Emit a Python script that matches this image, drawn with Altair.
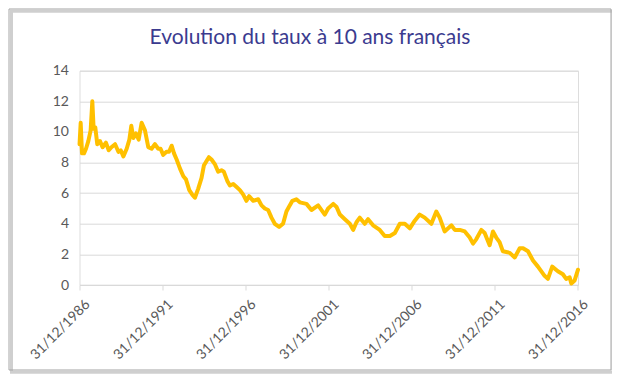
import altair as alt
import pandas as pd

# Decimal-year positions and 10-year French yield values (%)
years = [
    1987.00, 1987.07, 1987.15, 1987.27, 1987.39, 1987.53, 1987.67, 1987.77, 1987.85, 1987.95,
    1988.07, 1988.23, 1988.39, 1988.59, 1988.76, 1988.92, 1989.14, 1989.34, 1989.48, 1989.64,
    1989.84, 1990.00, 1990.12, 1990.24, 1990.40, 1990.56, 1990.74, 1990.94, 1991.14, 1991.34,
    1991.54, 1991.74, 1991.88, 1992.04, 1992.24, 1992.39, 1992.55, 1992.69, 1992.85, 1993.05,
    1993.25, 1993.41, 1993.61, 1993.79, 1993.95, 1994.15, 1994.35, 1994.49, 1994.65, 1994.79,
    1994.95, 1995.15, 1995.35, 1995.55, 1995.69, 1995.90, 1996.06, 1996.26, 1996.46, 1996.66,
    1996.86, 1997.05, 1997.21, 1997.46, 1997.76, 1997.96, 1998.16, 1998.36, 1998.56, 1998.76,
    1999.02, 1999.26, 1999.46, 1999.66, 1999.82, 2000.06,
    2000.27, 2000.67, 2000.97, 2001.37, 2001.77, 2001.97, 2002.28, 2002.48, 2002.68, 2002.98,
    2003.28, 2003.48, 2003.68, 2003.88, 2004.18, 2004.38, 2004.68, 2005.08, 2005.38, 2005.69,
    2005.99, 2006.29, 2006.59, 2006.89, 2007.19, 2007.49, 2007.79, 2008.19, 2008.49, 2008.69,
    2008.99, 2009.40, 2009.60, 2009.90, 2010.20, 2010.50, 2010.70, 2010.90, 2011.20, 2011.40,
    2011.70, 2011.90, 2012.10, 2012.30, 2012.50, 2012.91, 2013.21, 2013.51, 2013.71, 2014.01,
    2014.31, 2014.61, 2015.01, 2015.21, 2015.47, 2015.81, 2016.11, 2016.31, 2016.52, 2016.62,
    2016.82, 2017.02,
]
rates = [
    9.2, 10.6, 8.6, 8.6, 8.9, 9.4, 10.1, 12.0, 10.2, 10.3,
    9.2, 9.4, 9.0, 9.3, 8.8, 9.0, 9.2, 8.7, 8.8, 8.4,
    8.9, 9.5, 10.4, 9.6, 9.9, 9.5, 10.6, 10.1, 9.0, 8.9,
    9.2, 8.9, 8.9, 8.5, 8.7, 8.7, 9.1, 8.6, 8.2, 7.6,
    7.1, 6.9, 6.2, 5.9, 5.7, 6.3, 7.0, 7.8, 8.1, 8.35,
    8.2, 7.9, 7.4, 7.5, 7.4, 6.8, 6.5, 6.6, 6.4, 6.2,
    5.9, 5.5, 5.8, 5.5, 5.6, 5.2, 5.0, 4.9, 4.4, 4.0,
    3.8, 4.0, 4.8, 5.2, 5.5, 5.6,
    5.4, 5.3, 4.9, 5.2, 4.6, 5.0, 5.3, 5.1, 4.6, 4.3,
    4.0, 3.6, 4.1, 4.4, 4.0, 4.3, 3.9, 3.6, 3.2, 3.2,
    3.4, 4.0, 4.0, 3.7, 4.2, 4.6, 4.4, 4.0, 4.8, 4.4,
    3.5, 3.9, 3.6, 3.6, 3.5, 3.1, 2.7, 3.0, 3.6, 3.4,
    2.6, 3.5, 3.1, 2.8, 2.2, 2.1, 1.8, 2.4, 2.4, 2.2,
    1.6, 1.2, 0.6, 0.4, 1.2, 0.9, 0.7, 0.4, 0.5, 0.1,
    0.3, 1.0,
]
y_ticks = [0, 2, 4, 6, 8, 10, 12, 14]
x_tick_years = [1986, 1991, 1996, 2001, 2006, 2011, 2016]
title_text = "Evolution du taux à 10 ans français"


def to_date(y):
    base = pd.Timestamp(year=int(y), month=1, day=1)
    return (base + pd.Timedelta(days=(y - int(y)) * 365.25)).strftime("%Y-%m-%d")


df = pd.DataFrame({"date": [to_date(y) for y in years], "taux": rates})

W, H = 498.5, 214.3
FONT = "Lato"

x_values = [alt.DateTime(year=y, month=12, date=31, utc=True) for y in x_tick_years]

line = alt.Chart(df).mark_line(
    color="#FFC000", strokeWidth=4, strokeJoin="round", strokeCap="round"
).encode(
    x=alt.X(
        "date:T",
        title=None,
        scale=alt.Scale(
            type="utc",
            domain=[
                alt.DateTime(year=1986, month=12, date=31, utc=True),
                alt.DateTime(year=2017, month=1, date=8, utc=True),
            ],
        ),
        axis=alt.Axis(
            values=x_values,
            labelExpr="utcFormat(datum.value, '%d/%m/%Y')",
            labelAngle=-45,
            labelFont=FONT,
            labelFontSize=14,
            labelColor="#595959",
            domainColor="#d9d9d9",
            tickColor="#d9d9d9",
            tickSize=5,
            labelPadding=7,
            labelOffset=3,
            grid=False,
        ),
    ),
    y=alt.Y(
        "taux:Q",
        title=None,
        scale=alt.Scale(domain=[0, 14], nice=False),
        axis=alt.Axis(
            values=y_ticks,
            labelFont=FONT,
            labelFontSize=14,
            labelColor="#595959",
            domain=False,
            ticks=False,
            labelPadding=11,
            gridColor="#d9d9d9",
        ),
    ),
)

one = alt.Data(values=[{}])

shadow = alt.Chart(one).mark_rect(
    fill="transparent", stroke="#cfcfcf", strokeWidth=3
).encode(
    x=alt.value(-68), x2=alt.value(W + 35), y=alt.value(-59.5), y2=alt.value(301.5)
)
frame = alt.Chart(one).mark_rect(
    fill="transparent", stroke="#a6a6a6", strokeWidth=1
).encode(
    x=alt.value(-70.5), x2=alt.value(W + 33), y=alt.value(-61.7), y2=alt.value(299.3)
)

title = alt.Chart(one).mark_text(
    text=title_text, font=FONT, fontSize=21, color="#3B3B8F", align="center", baseline="middle"
).encode(x=alt.value(310 - 79.5), y=alt.value(38 - 70.7))

chart = alt.layer(shadow, frame, line, title).properties(
    width=W,
    height=H,
    autosize=alt.AutoSizeParams(type="none"),
    padding={"left": 71.5, "top": 62.7, "right": 34, "bottom": 89},
).configure_view(stroke=None).configure(background="white")

chart.save("out.html", embed_options={"renderer": "svg", "actions": False})
